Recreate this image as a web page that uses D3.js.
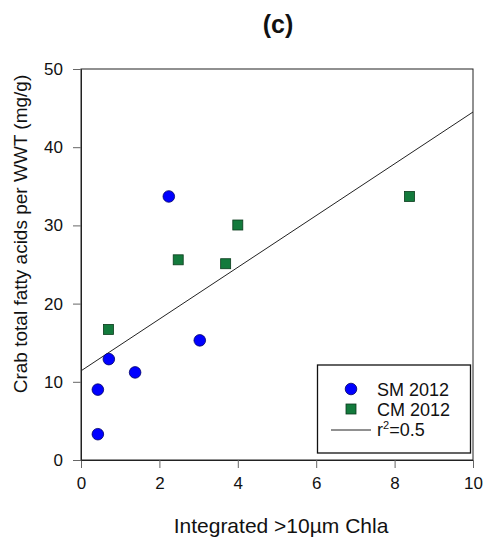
<!DOCTYPE html>
<html><head><meta charset="utf-8">
<script src="https://cdn.jsdelivr.net/npm/d3@7"></script>
<style>body{margin:0;background:#fff}svg{display:block}text{font-family:Arial,"Liberation Sans",sans-serif}</style>
</head><body>
<svg id="c" width="484" height="544"></svg>
<script>
const smX = [2.24, 0.71, 1.38, 0.43, 0.43, 3.03];
const smY = [33.7, 12.9, 11.2, 9.0, 3.3, 15.3];
const cmX = [0.70, 2.48, 3.69, 4.00, 8.38];
const cmY = [16.7, 25.6, 25.1, 30.05, 33.7];
const fitIntercept = 11.4;
const fitSlope = 3.31;
const xTicks = [0, 2, 4, 6, 8, 10];
const yTicks = [0, 10, 20, 30, 40, 50];
const legendLabels = ["SM 2012", "CM 2012"];

const svg = d3.select("#c");
const L = 81, R = 473, T = 69, B = 460;
const x = d3.scaleLinear().domain([0, 10]).range([L, R]);
const y = d3.scaleLinear().domain([0, 50]).range([B, T]);
const FF = "Arial, 'Liberation Sans', sans-serif";

svg.append("text").attr("x", 278).attr("y", 33).attr("text-anchor", "middle")
  .attr("font-size", 25).attr("font-weight", "bold").attr("fill", "#111").text("(c)");

// frame
svg.append("rect").attr("x", L).attr("y", T).attr("width", R - L).attr("height", B - T)
  .attr("fill", "none").attr("stroke", "#222").attr("stroke-width", 1);

const xa = svg.append("g").attr("transform", `translate(0,${B})`)
  .call(d3.axisBottom(x).tickValues(xTicks).tickSize(8).tickPadding(9).tickFormat(d3.format("d")));
const ya = svg.append("g").attr("transform", `translate(${L},0)`)
  .call(d3.axisLeft(y).tickValues(yTicks).tickSize(8).tickPadding(10).tickFormat(d3.format("d")));
[xa, ya].forEach(a => {
  a.attr("font-size", 17).attr("font-family", FF);
  a.select(".domain").attr("stroke", "#222");
  a.selectAll(".tick line").attr("stroke", "#666");
  a.selectAll(".tick text").attr("fill", "#111");
});

svg.append("text").attr("x", 281).attr("y", 533).attr("text-anchor", "middle")
  .attr("font-size", 21).attr("fill", "#111").text("Integrated >10µm Chla");
svg.append("text").attr("transform", "translate(27,234) rotate(-90)").attr("text-anchor", "middle")
  .attr("font-size", 19).attr("fill", "#111").text("Crab total fatty acids per WWT (mg/g)");

// regression line
svg.append("line").attr("x1", x(0)).attr("y1", y(fitIntercept))
  .attr("x2", x(10)).attr("y2", y(fitIntercept + fitSlope * 10))
  .attr("stroke", "#222").attr("stroke-width", 1);

const sm = smX.map((v, i) => ({x: v, y: smY[i]}));
const cm = cmX.map((v, i) => ({x: v, y: cmY[i]}));
svg.append("g").selectAll("circle").data(sm).join("circle")
  .attr("cx", d => x(d.x)).attr("cy", d => y(d.y)).attr("r", 5.8)
  .attr("fill", "#0000ff").attr("stroke", "#000066").attr("stroke-width", 0.8);
svg.append("g").selectAll("rect").data(cm).join("rect")
  .attr("x", d => x(d.x) - 5).attr("y", d => y(d.y) - 5).attr("width", 10).attr("height", 10)
  .attr("fill", "#137a3c").attr("stroke", "#0b3b1c").attr("stroke-width", 0.8);

// legend
const lg = svg.append("g").attr("font-family", FF);
lg.append("rect").attr("x", 317.5).attr("y", 365).attr("width", 153).attr("height", 88)
  .attr("fill", "#fff").attr("stroke", "#111").attr("stroke-width", 1.3);
lg.append("circle").attr("cx", 351).attr("cy", 389).attr("r", 5.8)
  .attr("fill", "#0000ff").attr("stroke", "#000066").attr("stroke-width", 0.8);
lg.append("rect").attr("x", 346).attr("y", 404).attr("width", 10).attr("height", 10)
  .attr("fill", "#137a3c").attr("stroke", "#0b3b1c").attr("stroke-width", 0.8);
lg.append("line").attr("x1", 331).attr("x2", 371).attr("y1", 430).attr("y2", 430)
  .attr("stroke", "#222").attr("stroke-width", 1);
lg.append("text").attr("x", 377).attr("y", 396).attr("font-size", 18).attr("fill", "#111").text(legendLabels[0]);
lg.append("text").attr("x", 377).attr("y", 415.5).attr("font-size", 18).attr("fill", "#111").text(legendLabels[1]);
const rt = lg.append("text").attr("x", 377).attr("y", 436).attr("font-size", 18).attr("fill", "#111");
rt.append("tspan").text("r");
rt.append("tspan").attr("font-size", 11).attr("dy", -7).text("2");
rt.append("tspan").attr("dy", 7).text("=0.5");
</script>
</body></html>
